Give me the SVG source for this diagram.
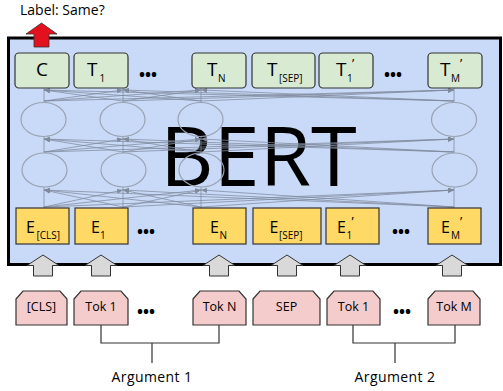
<svg xmlns="http://www.w3.org/2000/svg" width="503" height="391" viewBox="0 0 503 391">
<style>
text{font-family:"Open Sans","Liberation Sans",sans-serif;fill:#000}
.tb{fill:#d9ead3;stroke:#333;stroke-width:1.2}
.eb{fill:#ffd966;stroke:#333;stroke-width:1.2}
.tk{fill:#f4cccc;stroke:#333;stroke-width:1.2}
.ga{fill:#d9d9d9;stroke:#333;stroke-width:1}
.big{font-size:19px}
.mid{font-size:16px}
.sub{font-size:10px}
.pr{font-size:13px}
.tok{font-size:12.5px;text-anchor:middle}
.dots{font-size:16px;font-weight:bold;text-anchor:middle}
.arg{font-size:14px;text-anchor:middle;letter-spacing:0.4px}
.ln{stroke:#7f8a9c;stroke-opacity:0.75;stroke-width:1;fill:none;marker-end:url(#ah)}
.vl{stroke:#7f8a9c;stroke-opacity:0.75;stroke-width:1}
.el{fill:none;stroke:#9aa3b2;stroke-width:1.2}
.br{stroke:#333;stroke-width:1.2;fill:none}
</style>
<defs>
<marker id="ah" markerWidth="6" markerHeight="5" refX="6" refY="2.5" orient="auto" markerUnits="userSpaceOnUse">
<path d="M0,0 L6,2.5 L0,5 z" fill="#7f8a9c"/>
</marker>
</defs>

<text x="20" y="15" style="font-size:14px">Label: Same?</text>

<g id="bert">
<rect x="8.5" y="38" width="492" height="226.5" fill="#c9daf8" stroke="#000" stroke-width="3"/>
<text x="160" y="186" style="font-size:83px">BERT</text>
</g>

<g id="connectors">
<line class="vl" x1="44" y1="88" x2="44" y2="102"/>
<line class="vl" x1="123" y1="88" x2="123" y2="102"/>
<line class="vl" x1="201" y1="88" x2="201" y2="102"/>
<line class="vl" x1="454" y1="88" x2="454" y2="102"/>
<path class="ln" d="M44,101 L123,90"/><path class="ln" d="M44,101 L201,90"/><path class="ln" d="M44,101 L454,90"/>
<path class="ln" d="M123,101 L44,90"/><path class="ln" d="M123,101 L201,90"/><path class="ln" d="M123,101 L454,90"/>
<path class="ln" d="M201,101 L44,90"/><path class="ln" d="M201,101 L123,90"/><path class="ln" d="M201,101 L454,90"/>
<path class="ln" d="M454,101 L44,90"/><path class="ln" d="M454,101 L123,90"/><path class="ln" d="M454,101 L201,90"/>
<line class="vl" x1="44" y1="137" x2="44" y2="153"/>
<line class="vl" x1="123" y1="137" x2="123" y2="153"/>
<line class="vl" x1="201" y1="137" x2="201" y2="153"/>
<line class="vl" x1="454" y1="137" x2="454" y2="153"/>
<path class="ln" d="M44,152 L123,139"/><path class="ln" d="M44,152 L201,139"/><path class="ln" d="M44,152 L454,139"/>
<path class="ln" d="M123,152 L44,139"/><path class="ln" d="M123,152 L201,139"/><path class="ln" d="M123,152 L454,139"/>
<path class="ln" d="M201,152 L44,139"/><path class="ln" d="M201,152 L123,139"/><path class="ln" d="M201,152 L454,139"/>
<path class="ln" d="M454,152 L44,139"/><path class="ln" d="M454,152 L123,139"/><path class="ln" d="M454,152 L201,139"/>
<line class="vl" x1="44" y1="187" x2="44" y2="208"/>
<line class="vl" x1="123" y1="187" x2="123" y2="208"/>
<line class="vl" x1="201" y1="187" x2="201" y2="208"/>
<line class="vl" x1="454" y1="187" x2="454" y2="208"/>
<path class="ln" d="M44,207 L123,190"/><path class="ln" d="M44,207 L201,190"/><path class="ln" d="M44,207 L454,190"/>
<path class="ln" d="M123,207 L44,190"/><path class="ln" d="M123,207 L201,190"/><path class="ln" d="M123,207 L454,190"/>
<path class="ln" d="M201,207 L44,190"/><path class="ln" d="M201,207 L123,190"/><path class="ln" d="M201,207 L454,190"/>
<path class="ln" d="M454,207 L44,190"/><path class="ln" d="M454,207 L123,190"/><path class="ln" d="M454,207 L201,190"/>
<path class="br" d="M101,325 V343 H219 V325 M152,343 V363"/>
<path class="br" d="M353,325 V343 H455 V325 M395,343 V363"/>
</g>

<g id="layers">
<ellipse class="el" cx="43.5" cy="119.5" rx="22.5" ry="17"/>
<ellipse class="el" cx="122.5" cy="119.5" rx="22.5" ry="17"/>
<ellipse class="el" cx="200.5" cy="119.5" rx="22.5" ry="17"/>
<ellipse class="el" cx="454" cy="119.5" rx="22.5" ry="17"/>
<ellipse class="el" cx="44.5" cy="170" rx="22.5" ry="17"/>
<ellipse class="el" cx="123.5" cy="170" rx="22.5" ry="17"/>
<ellipse class="el" cx="201.5" cy="170" rx="22.5" ry="17"/>
<ellipse class="el" cx="454.5" cy="170" rx="22.5" ry="17"/>
</g>

<g id="label-arrow">
<path d="M41.5,23 L57,34 L49,34 L49,47 L34,47 L34,34 L26,34 Z" fill="#e3101e" stroke="#333" stroke-width="0.8"/>
</g>

<g id="t-cls"><rect class="tb" x="15" y="53" width="54" height="35" rx="4"/><text class="big" x="42" y="76" text-anchor="middle">C</text></g>
<g id="t-1"><rect class="tb" x="74" y="53" width="54" height="35" rx="4"/><text class="big" x="87" y="76">T<tspan class="sub" x="99.5" y="82">1</tspan></text></g>
<text class="dots" x="148" y="80">•••</text>
<g id="t-n"><rect class="tb" x="192" y="53" width="54" height="35" rx="4"/><text class="big" x="207" y="76">T<tspan class="sub" x="218" y="82">N</tspan></text></g>
<g id="t-sep"><rect class="tb" x="252" y="53" width="63" height="35" rx="4"/><text class="big" x="267" y="76">T<tspan class="sub" x="279" y="82">[SEP]</tspan></text></g>
<g id="t-1p"><rect class="tb" x="319" y="53" width="54" height="35" rx="4"/><text class="big" x="336" y="76">T<tspan class="sub" x="347" y="82">1</tspan><tspan class="pr" x="352" y="68">’</tspan></text></g>
<text class="dots" x="393" y="80">•••</text>
<g id="t-mp"><rect class="tb" x="428" y="53" width="54" height="35" rx="4"/><text class="big" x="440" y="76">T<tspan class="sub" x="451" y="82">M</tspan><tspan class="pr" x="460" y="68">’</tspan></text></g>

<g id="e-cls"><rect class="eb" x="16" y="208" width="53" height="36"/><text class="mid" x="26" y="233">E<tspan class="sub" x="36.5" y="239">[CLS]</tspan></text></g>
<g id="e-1"><rect class="eb" x="75" y="208" width="53" height="36"/><text class="mid" x="91" y="233">E<tspan class="sub" x="100" y="239">1</tspan></text></g>
<text class="dots" x="146" y="237">•••</text>
<g id="e-n"><rect class="eb" x="193" y="208" width="53" height="36"/><text class="mid" x="210" y="233">E<tspan class="sub" x="219.5" y="239">N</tspan></text></g>
<g id="e-sep"><rect class="eb" x="253" y="208" width="68" height="36"/><text class="mid" x="269.5" y="233">E<tspan class="sub" x="279" y="239">[SEP]</tspan></text></g>
<g id="e-1p"><rect class="eb" x="326" y="208" width="53" height="36"/><text class="mid" x="337" y="233">E<tspan class="sub" x="346.5" y="239">1</tspan><tspan class="pr" x="351.5" y="226">’</tspan></text></g>
<text class="dots" x="401" y="237">•••</text>
<g id="e-mp"><rect class="eb" x="428" y="208" width="53" height="36"/><text class="mid" x="441" y="233">E<tspan class="sub" x="451" y="239">M</tspan><tspan class="pr" x="460" y="226">’</tspan></text></g>

<g id="in-arrows">
<path class="ga" d="M43,255 L59,265.5 L52.5,265.5 L52.5,276 L33.5,276 L33.5,265.5 L27,265.5 Z"/>
<path class="ga" d="M101,255 L117,265.5 L110.5,265.5 L110.5,276 L91.5,276 L91.5,265.5 L85,265.5 Z"/>
<path class="ga" d="M219,255 L235,265.5 L228.5,265.5 L228.5,276 L209.5,276 L209.5,265.5 L203,265.5 Z"/>
<path class="ga" d="M287,255 L303,265.5 L296.5,265.5 L296.5,276 L277.5,276 L277.5,265.5 L271,265.5 Z"/>
<path class="ga" d="M350,255 L366,265.5 L359.5,265.5 L359.5,276 L340.5,276 L340.5,265.5 L334,265.5 Z"/>
<path class="ga" d="M452,255 L468,265.5 L461.5,265.5 L461.5,276 L442.5,276 L442.5,265.5 L436,265.5 Z"/>
</g>

<g id="tok-cls"><path class="tk" d="M16,299 L23,291 L60,291 L67,299 V325 H16 Z"/><text class="tok" x="41.5" y="311">[CLS]</text></g>
<g id="tok-1"><path class="tk" d="M74,299 L81,291 L121,291 L128,299 V325 H74 Z"/><text class="tok" x="101" y="311">Tok 1</text></g>
<text class="dots" x="146" y="317">•••</text>
<g id="tok-n"><path class="tk" d="M193,299 L200,291 L239,291 L246,299 V325 H193 Z"/><text class="tok" x="219.5" y="311">Tok N</text></g>
<g id="tok-sep"><path class="tk" d="M253,299 L260,291 L313,291 L320,299 V325 H253 Z"/><text class="tok" x="286.5" y="311">SEP</text></g>
<g id="tok-1p"><path class="tk" d="M327,299 L334,291 L373,291 L380,299 V325 H327 Z"/><text class="tok" x="353.5" y="311">Tok 1</text></g>
<text class="dots" x="402" y="317">•••</text>
<g id="tok-m"><path class="tk" d="M428,299 L435,291 L473,291 L480,299 V325 H428 Z"/><text class="tok" x="454" y="311">Tok M</text></g>

<text class="arg" x="152" y="382">Argument  1</text>
<text class="arg" x="395" y="382">Argument 2</text>
</svg>
